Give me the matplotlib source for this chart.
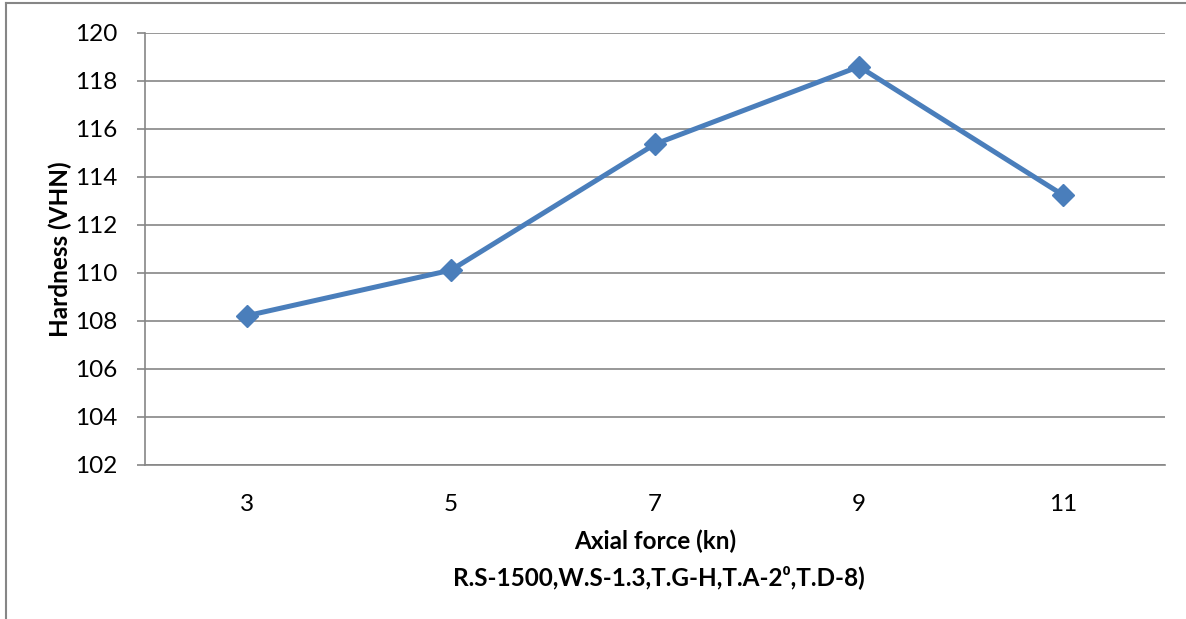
import matplotlib
matplotlib.use("Agg")
import matplotlib.pyplot as plt
from matplotlib.lines import Line2D

# data
axial_force = ["3", "5", "7", "9", "11"]
hardness = [108.22, 110.12, 115.37, 118.6, 113.25]
y_ticks = [102, 104, 106, 108, 110, 112, 114, 116, 118, 120]

plt.rcParams['font.family'] = ['Lato', 'DejaVu Sans']

W, H = 1186, 619
fig = plt.figure(figsize=(W / 100, H / 100), dpi=100)
ax = fig.add_axes([145 / W, 1 - 465 / H, 1020 / W, 432 / H])

grid_col = '#868686'
line_col = '#4A7EBB'

x = list(range(len(axial_force)))
ax.plot(x, hardness, color=line_col, lw=3.6, marker='D', ms=11,
        markerfacecolor=line_col, markeredgecolor=line_col, zorder=3)

ax.set_xlim(-0.5, len(axial_force) - 0.5)
ax.set_ylim(102, 120)
ax.set_yticks(y_ticks)
ax.set_xticks(x)
ax.set_xticklabels(axial_force)

ax.yaxis.grid(True, color=grid_col, lw=1.2)
ax.set_axisbelow(True)
for s in ['top', 'right']:
    ax.spines[s].set_visible(False)
for s in ['left', 'bottom']:
    ax.spines[s].set_color(grid_col)
    ax.spines[s].set_linewidth(1.2)

ax.tick_params(axis='y', length=6, width=1.2, color=grid_col, pad=14,
               labelsize=17.5, labelcolor='black')
ax.tick_params(axis='x', length=0, pad=21, labelsize=17.5, labelcolor='black')

# axis titles
fig.text(60 / W, 1 - 249 / H, 'Hardness (VHN)', rotation=90, ha='center',
         va='center', fontsize=17.5, fontweight='bold')
fig.text(655 / W, 1 - 541 / H, 'Axial force (kn)', ha='center', va='center',
         fontsize=17.5, fontweight='bold')
fig.text(659 / W, 1 - 577 / H, 'R.S-1500,W.S-1.3,T.G-H,T.A-2\u2070,T.D-8)',
         ha='center', va='center', fontsize=17.5, fontweight='bold')

# chart area border (left and top edges visible)
fig.add_artist(Line2D([6 / W, 6 / W], [0, 1 - 3 / H], color=grid_col, lw=1.5,
                      transform=fig.transFigure))
fig.add_artist(Line2D([6 / W, 1], [1 - 3 / H, 1 - 3 / H], color=grid_col, lw=1.5,
                      transform=fig.transFigure))

fig.savefig('out.png', dpi=100)
